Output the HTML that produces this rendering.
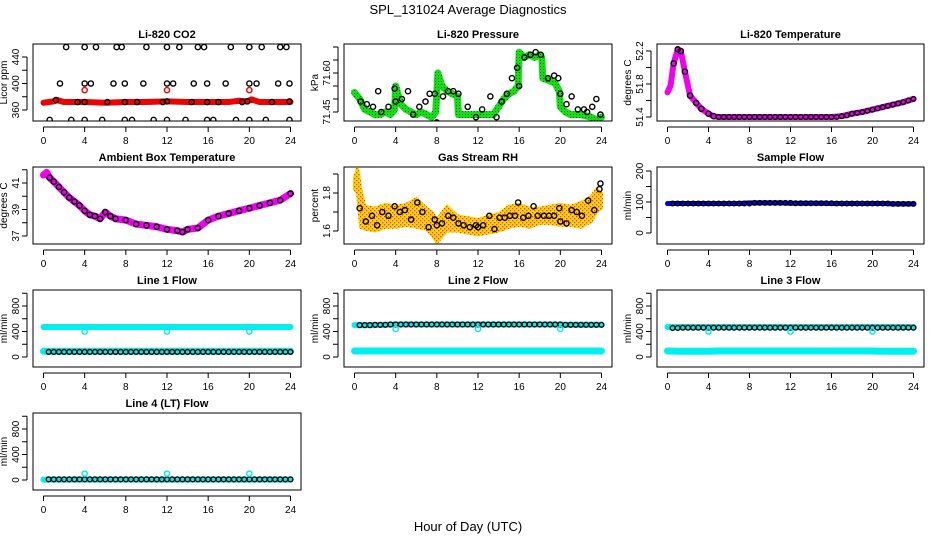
<!DOCTYPE html>
<html><head><meta charset="utf-8"><style>
html,body{margin:0;padding:0;background:#fff}
svg{display:block;font-family:"Liberation Sans",sans-serif}
</style></head><body>
<svg id="c" width="936" height="540" viewBox="0 0 936 540">
<defs>
<pattern id="rhpat" width="4" height="4" patternUnits="userSpaceOnUse">
<rect width="4" height="4" fill="#ffd800"/><rect width="1.3" height="1.3" fill="#f04000"/><rect x="2" y="2" width="1.3" height="1.3" fill="#f04000"/>
</pattern>
<pattern id="grpat" width="3" height="3" patternUnits="userSpaceOnUse">
<rect width="3" height="3" fill="#10e010"/><rect width="1" height="1" fill="#106010"/>
</pattern>
</defs>
<text x="468" y="14" font-size="13" text-anchor="middle">SPL_131024  Average Diagnostics</text>
<text x="468" y="531" font-size="13" text-anchor="middle">Hour of Day (UTC)</text>
</svg>
<script>
// ---- shared sample hours ----
const halfHours = [0.5,1,1.5,2,2.5,3,3.5,4,4.5,5,5.5,6,6.5,7,7.5,8,8.5,9,9.5,10,10.5,11,11.5,12,12.5,13,13.5,14,14.5,15,15.5,16,16.5,17,17.5,18,18.5,19,19.5,20,20.5,21,21.5,22,22.5,23,23.5,24];
const bandHours = [0,1,2,3,4,5,6,7,8,9,10,11,12,13,14,15,16,17,18,19,20,21,22,23,24];
const dipHours = [4,12,20];
// ---- CO2 ----
const co2BandHours = [0,1,1.3,2,4,6,8,10,12,14,16,18,19,19.8,20.2,21,22,24];
const co2Band = [371,373,375,372,372,371,372,372,373,372,372,372,374,373,376,372,372,372];
const co2HighHours = [2.2,4,5.1,7.1,7.6,10,12,13.2,15,15.6,18.2,20,21.2,23,23.6];
const co2High = [455,455,455,455,455,455,455,455,455,455,455,455,455,455,455];
const co2MidHours = [1.6,4,4.6,6.8,7.9,9.7,12,12.6,14.6,15.9,17.7,20,20.7,22.8,23.9];
const co2Mid = [400,400,400,400,400,400,400,400,400,400,400,400,400,400,400];
const co2LowHours = [0.6,2.7,4,5.7,7.9,8.6,10.7,12,13.8,15.9,16.5,18.7,20,21.6,23.9];
const co2Low = [345,345,345,345,345,345,345,345,345,345,345,345,345,345,345];
const co2OnHours = [1.2,3.3,4,6.2,7.9,9.1,11.6,12,14.4,15.9,17,19.3,19.8,22.2,23.9];
const co2On = [375,372,372,372,372,372,372,373,372,372,372,372,373,372,373];
const co2Red = [390,390,390];
// ---- Pressure ----
const prHours = [0,0.5,1,1.5,2,2.5,3,3.5,3.9,4,4.5,5,5.5,6,6.5,7,7.5,7.9,8.1,8.5,9,9.5,10,10.1,11,12,13,13.5,14,14.5,15,15.5,15.9,16,16.5,17,17.5,18,18.2,18.3,19,19.5,19.9,20,20.5,21,22,23,23.5,24];
const prVals = [71.525,71.50,71.46,71.45,71.44,71.44,71.45,71.44,71.46,71.55,71.48,71.46,71.45,71.44,71.45,71.44,71.43,71.45,71.60,71.55,71.53,71.52,71.51,71.44,71.44,71.44,71.44,71.44,71.47,71.50,71.52,71.53,71.55,71.68,71.66,71.67,71.66,71.67,71.66,71.58,71.57,71.56,71.53,71.47,71.45,71.44,71.44,71.43,71.42,71.43];
const prPtHours = [0.6,1.2,1.8,2.3,2.6,3.3,3.9,4,4.6,5.2,5.7,6.3,6.9,7.3,7.8,8,8.6,9.1,9.6,10.1,11,11.8,12.4,13.2,13.8,14.3,14.8,15.3,15.8,16,16.5,17.1,17.6,18.1,18.8,19.4,19.8,20,20.6,21.1,21.7,22.3,22.6,23.1,23.5,23.9];
const prPts = [71.49,71.48,71.47,71.53,71.45,71.47,71.54,71.49,71.50,71.53,71.44,71.47,71.49,71.52,71.52,71.41,71.51,71.53,71.53,71.52,71.47,71.43,71.46,71.51,71.43,71.49,71.52,71.58,71.62,71.55,71.66,71.67,71.68,71.67,71.58,71.59,71.58,71.52,71.48,71.51,71.46,71.46,71.45,71.47,71.50,71.44];
// ---- Li-820 temperature ----
const ltHours = [0,0.3,0.6,1,1.3,1.7,2.2,2.8,3.3,4,4.5,5,8,12,16,17,18,19,20,21,22,23,24];
const ltVals = [51.70,51.78,52.05,52.22,52.20,51.95,51.66,51.57,51.50,51.44,51.41,51.40,51.40,51.40,51.40,51.41,51.44,51.46,51.49,51.52,51.55,51.58,51.62];
const ltFlatHours = [5,5.5,6,6.5,7,7.5,8,8.5,9,9.5,10,10.5,11,11.5,12,12.5,13,13.5,14,14.5,15,15.5,16,16.5];
const ltFlat = [51.40,51.40,51.40,51.40,51.40,51.40,51.40,51.40,51.40,51.40,51.40,51.40,51.40,51.40,51.40,51.40,51.40,51.40,51.40,51.40,51.40,51.40,51.40,51.40];
const ltRiseHours = [17,17.5,18,18.5,19,19.5,20,20.5,21,21.5,22,22.5,23,23.5,24];
const ltRise = [51.41,51.42,51.44,51.45,51.46,51.475,51.49,51.505,51.52,51.535,51.55,51.565,51.58,51.60,51.62];
// ---- Ambient ----
const abHours = [0,0.3,0.6,1,1.5,2,2.5,3,3.5,4,4.5,5,5.5,6,6.5,7,8,9,10,11,12,13,13.5,14,15,16,17,18,19,20,21,22,23,24];
const abVals = [41.6,41.8,41.4,41.1,40.7,40.3,39.9,39.6,39.3,38.9,38.6,38.5,38.3,38.8,38.5,38.3,38.2,37.9,37.8,37.7,37.5,37.4,37.3,37.5,37.6,38.2,38.5,38.7,38.9,39.1,39.3,39.5,39.7,40.2];
// ---- RH ----
const rhHours = [0,0.3,0.6,1,2,3,4,5,6,7,7.5,8,9,10,11,12,13,14,15,16,17,18,19,20,21,22,23,23.5,24];
const rhUpper = [1.88,1.93,1.82,1.73,1.72,1.74,1.73,1.74,1.77,1.72,1.70,1.66,1.73,1.68,1.67,1.66,1.68,1.69,1.73,1.74,1.72,1.72,1.73,1.74,1.73,1.75,1.78,1.82,1.80];
const rhLower = [1.82,1.80,1.62,1.61,1.60,1.62,1.62,1.63,1.62,1.61,1.58,1.54,1.60,1.60,1.59,1.58,1.59,1.60,1.62,1.63,1.62,1.64,1.64,1.63,1.63,1.62,1.65,1.70,1.72];
const rhPtHours = [0.5,1.1,1.7,2.2,2.7,3.3,3.9,4.4,4.9,5.5,6.1,6.6,7.2,7.8,8,8.5,9.1,9.6,10.1,10.6,11.2,11.8,12,12.5,13.1,13.6,14.1,14.6,15.1,15.6,15.9,16.4,16.9,17.4,17.8,18.4,18.9,19.4,19.9,20,20.6,21.1,21.6,22.1,22.7,23.3,23.8,23.9];
const rhPts = [1.72,1.65,1.68,1.63,1.70,1.68,1.73,1.70,1.71,1.66,1.75,1.70,1.62,1.66,1.63,1.64,1.68,1.67,1.64,1.63,1.62,1.63,1.62,1.63,1.68,1.61,1.67,1.67,1.68,1.68,1.75,1.67,1.68,1.73,1.68,1.68,1.68,1.68,1.72,1.65,1.64,1.71,1.70,1.68,1.76,1.71,1.82,1.85];
// ---- Sample flow ----
const sfBand = [95,95,95,95,95,95,95,95,97,97,97,97,96,96,96,96,95,95,95,95,95,95,94,94,94];
const sfPts = [95,95,95,95,95,95,95,95,95,95,95,95,95,95,95,95,97,97,97,97,97,97,97,97,96,96,96,96,96,96,96,96,95,95,95,95,95,95,95,95,95,95,95,94,94,94,94,94];
// ---- Line flows ----
const l1Cyan = [470,470,470,470,470,470,470,470,470,470,470,470,470,470,470,470,470,470,470,470,470,470,470,470,470];
const l1CyanLow = [90,90,90,90,90,90,90,90,90,90,90,90,90,90,90,90,90,90,90,90,90,90,90,90,90];
const l1Black = [80,80,80,80,80,80,80,80,80,80,80,80,80,80,80,80,80,80,80,80,80,80,80,80,80,80,80,80,80,80,80,80,80,80,80,80,80,80,80,80,80,80,80,80,80,80,80,80];
const l1Dip = [400,400,400];
const l2Cyan = [500,500,500,505,510,510,510,510,510,510,510,510,510,510,510,510,510,510,510,510,505,505,505,505,505];
const l2CyanLow = [95,95,95,95,95,95,95,95,95,95,95,95,95,95,95,95,95,95,95,95,95,95,95,95,95];
const l2Black = [500,500,500,505,505,505,510,510,510,510,510,510,510,510,510,510,510,510,510,510,510,510,510,510,510,510,510,510,510,510,510,510,510,510,510,510,510,510,510,510,505,505,505,505,505,505,505,505];
const l2Dip = [440,440,440];
const l3Cyan = [470,470,470,470,470,470,470,470,470,470,470,470,470,470,470,470,470,470,470,470,470,470,470,470,470];
const l3CyanLow = [95,90,90,90,90,95,95,95,95,95,95,95,95,95,95,95,95,95,95,95,95,90,90,90,90];
const l3Black = [455,455,460,460,460,460,460,460,460,460,460,460,460,460,460,460,460,460,460,460,460,460,460,460,460,460,460,460,460,460,460,460,460,460,460,460,460,460,460,460,460,460,460,460,460,460,460,460];
const l3Dip = [400,400,400];
const l4Cyan = [5,5,5,5,5,5,5,5,5,5,5,5,5,5,5,5,5,5,5,5,5,5,5,5,5];
const l4Black = [10,10,10,10,10,10,10,10,10,10,10,10,10,10,10,10,10,10,10,10,10,10,10,10,10,10,10,10,10,10,10,10,10,10,10,10,10,10,10,10,10,10,10,10,10,10,10,10];
const l4Dip = [100,100,100];
const xTicks = [0,4,8,12,16,20,24];

const NS = 'http://www.w3.org/2000/svg';
const svg = document.getElementById('c');
function mk(tag, attrs, parent){const e=document.createElementNS(NS,tag);for(const k in attrs)e.setAttribute(k,attrs[k]);(parent||svg).appendChild(e);return e;}

const cols = [[33,301],[344,612],[657,924]];
const rows = [[44,121],[167,244],[290,367],[413,490]];

function panel(name, col, row, title, ylab, ymap, yticks, ylabels){
  const [x0,x1]=cols[col],[y0,y1]=rows[row];
  const g=mk('g',{});
  
  
  const xs=v=>x0+10.5+v*(x1-x0-21)/24;
  const ys=v=>ymap[1]+(v-ymap[0])*(ymap[3]-ymap[1])/(ymap[2]-ymap[0]);
  const t=mk('text',{x:(x0+x1)/2,y:y0-6,'font-size':11,'font-weight':'bold','text-anchor':'middle'},g);
  t.textContent=title;
  
  
  const xa=mk('g',{},g);
  
  
  mk('line',{x1:xs(0),x2:xs(24),y1:y1+6,y2:y1+6,stroke:'#000','stroke-width':1},xa);
  xTicks.forEach(v=>{mk('line',{x1:xs(v),x2:xs(v),y1:y1+6,y2:y1+11,stroke:'#000'},xa);
    const l=mk('text',{x:xs(v),y:y1+23,'font-size':10,'text-anchor':'middle'},xa);l.textContent=v;});
  const ya=mk('g',{},g);
  
  
  mk('line',{x1:x0-6,x2:x0-6,y1:ys(yticks[0]),y2:ys(yticks[yticks.length-1]),stroke:'#000'},ya);
  yticks.forEach(v=>{mk('line',{x1:x0-11,x2:x0-6,y1:ys(v),y2:ys(v),stroke:'#000'},ya);});
  ylabels.forEach(v=>{const yy=ys(v);const l=mk('text',{x:x0-14,y:yy,'font-size':10,'text-anchor':'middle',transform:`rotate(-90 ${x0-14} ${yy})`},ya);l.textContent=v;});
  const yl=mk('text',{x:x0-26,y:(y0+y1)/2,'font-size':10,'text-anchor':'middle',transform:`rotate(-90 ${x0-26} ${(y0+y1)/2})`},ya);
  yl.textContent=ylab;
  const clip=mk('clipPath',{id:'cl'+name},g);mk('rect',{x:x0,y:y0,width:x1-x0,height:y1-y0},clip);
  const plot=mk('g',{'clip-path':`url(#cl${name})`},g);
  
  
  const frame=mk('rect',{x:x0,y:y0,width:x1-x0,height:y1-y0,fill:'none',stroke:'#000','stroke-width':1},g);
  
  
  return {xs,ys,plot};
}
function band(p,hours,vals,color,w,nm){
  const pl=mk('polyline',{points:hours.map((h,i)=>p.xs(h)+','+p.ys(vals[i])).join(' '),fill:'none',stroke:color,'stroke-width':w,'stroke-linejoin':'round','stroke-linecap':'round'},p.plot);
  
  
}
function pts(p,hours,vals,color,nm,r){
  const g=mk('g',{},p.plot);
  
  
  hours.forEach((h,i)=>{const c=mk('circle',{cx:p.xs(h),cy:p.ys(vals[i]),r:r||2.6,fill:'none',stroke:color,'stroke-width':1.4},g);
    
    });
}

// CO2
let p=panel('co2',0,0,'Li-820 CO2','Licor ppm',[360,110,440,57],[360,380,400,420,440],[360,400,440]);
band(p,co2BandHours,co2Band,'#f00000',6,'co2-red-band');
pts(p,co2HighHours,co2High,'#000','co2-high-points');
pts(p,co2MidHours,co2Mid,'#000','co2-mid-points');
pts(p,co2LowHours,co2Low,'#000','co2-low-points');
pts(p,co2OnHours,co2On,'#000','co2-band-points');
pts(p,dipHours,co2Red,'#f00000','co2-red-points');
// Pressure
p=panel('pressure',1,0,'Li-820 Pressure','kPa',[71.45,112,71.60,73],[71.45,71.50,71.55,71.60,71.65,71.70],['71.45','71.60']);
band(p,prHours,prVals,'url(#grpat)',7,'pressure-green-band');
pts(p,prPtHours,prPts,'#000','pressure-points');
// Li temp
p=panel('li-temp',2,0,'Li-820 Temperature','degrees C',[51.4,117,52.2,51],[51.4,51.6,51.8,52.0,52.2],['51.4','51.8','52.2']);
band(p,ltHours,ltVals,'#f000f0',6,'li-temp-magenta-band');
pts(p,ltHours.slice(2,11),ltVals.slice(2,11),'#000','li-temp-points');
pts(p,ltFlatHours,ltFlat,'#000','li-temp-flat-points',2.3);
pts(p,ltRiseHours,ltRise,'#000','li-temp-rise-points',2.3);
// Ambient
p=panel('ambient',0,1,'Ambient Box Temperature','degrees C',[37,236,41,183],[37,38,39,40,41,42],[37,39,41]);
band(p,abHours,abVals,'#f000f0',7,'ambient-magenta-band');
pts(p,abHours.slice(2),abVals.slice(2),'#000','ambient-points');
// RH
p=panel('rh',1,1,'Gas Stream RH','percent',[1.6,231,1.8,193],[1.6,1.7,1.8,1.9],['1.6','1.8']);
{const poly=mk('polygon',{points:rhHours.map((h,i)=>p.xs(h)+','+p.ys(rhUpper[i])).concat(rhHours.slice().reverse().map((h,i)=>p.xs(h)+','+p.ys(rhLower[rhHours.length-1-i]))).join(' '),fill:'url(#rhpat)',stroke:'url(#rhpat)','stroke-width':3},p.plot);

}
pts(p,rhPtHours,rhPts,'#000','rh-points');
// Sample flow
p=panel('sample-flow',2,1,'Sample Flow','ml/min',[0,233,200,171],[0,50,100,150,200],[0,100,200]);
band(p,bandHours,sfBand,'#0000f0',5,'sample-flow-band');
pts(p,halfHours,sfPts,'#000','sample-flow-points',2.3);
// Line flows
function flow(nm,col,row,title,cyan,cyanLow,black,dip){
  const yb=rows[row][1];
  const pp=panel(nm,col,row,title,'ml/min',[0,yb-10,800,yb-61],[0,200,400,600,800,1000],[0,400,800]);
  band(pp,bandHours,cyan,'#00f0f0',6,nm+'-cyan-band');
  if(cyanLow) band(pp,bandHours,cyanLow,'#00f0f0',7,nm+'-cyan-low-band');
  pts(pp,halfHours,black,'#000',nm+'-points',2.4);
  pts(pp,dipHours,dip,'#00e8e8',nm+'-cyan-dips');
}
flow('line1',0,2,'Line 1 Flow',l1Cyan,l1CyanLow,l1Black,l1Dip);
flow('line2',1,2,'Line 2 Flow',l2Cyan,l2CyanLow,l2Black,l2Dip);
flow('line3',2,2,'Line 3 Flow',l3Cyan,l3CyanLow,l3Black,l3Dip);
flow('line4',0,3,'Line 4 (LT) Flow',l4Cyan,null,l4Black,l4Dip);
</script>
</body></html>
